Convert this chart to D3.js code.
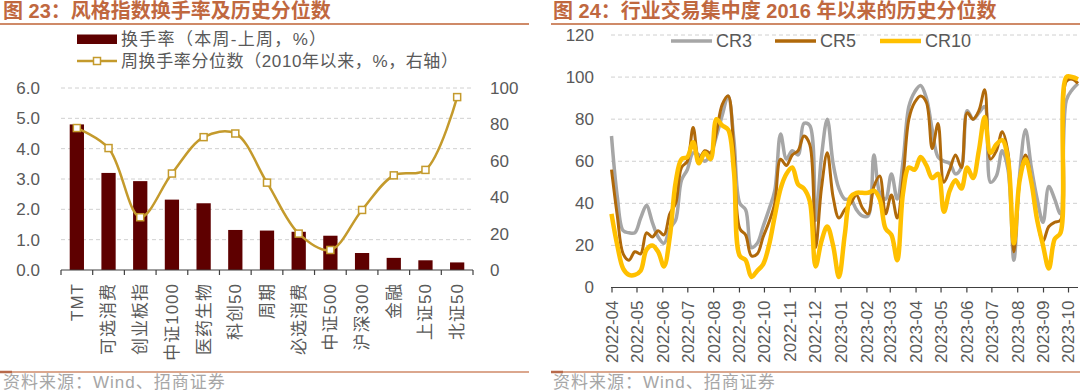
<!DOCTYPE html>
<html><head><meta charset="utf-8">
<script src="https://cdn.jsdelivr.net/npm/d3@7"></script>
<style>body{margin:0;background:#fff} svg{display:block}</style>
</head><body><svg id="c" width="1080" height="391"></svg>
<script>
// ---------- data: left chart ----------
const styleCats = ["TMT","可选消费","创业板指","中证1000","医药生物","科创50","周期","必选消费","中证500","沪深300","金融","上证50","北证50"];
const turnoverChange = [4.80,3.20,2.93,2.32,2.20,1.32,1.30,1.26,1.13,0.56,0.40,0.32,0.25];
const turnoverPct = [78,67,29,53,73,75,48,20,11,33,52,55,95];
const leftTicks = [0,1,2,3,4,5,6];
const rightTicks = [0,20,40,60,80,100];

// ---------- data: right chart (weekly, from 2022-04-01) ----------
const weekStart = "2022-04-01";
const cr3 = [72,43,27,26,26,33,39,31,24,21, 28,32,51,56,64,63,60,63,72,82,
             91,70,40,37,19,21,29,37,46,73, 61,65,63,78,77,32,62,80,59,47,
             42,42,37,34,34,63,45,42,54,42, 60,86,93,96,90,75,62,60,59,54,
             57,84,80,83,86,50,53,65,56,13, 54,75,57,42,31,48,42,35,89,94, 97];
const cr5 = [56,34,16,13,17,16,26,24,27,25, 35,40,57,60,76,61,65,64,74,87,
             91,64,28,25,15,16,24,31,40,61, 58,63,65,72,68,19,47,64,43,33,
             37,40,44,38,35,48,53,35,44,33, 52,80,88,91,88,66,78,50,56,63,
             57,83,80,84,94,61,65,74,64,17, 51,63,51,32,22,29,31,32,98,99, 97];
const cr10 = [35,20,9,6,6,8,18,20,17,10, 24,50,61,62,69,59,64,61,80,77,
              75,55,15,13,5,8,11,20,34,47, 54,57,49,47,41,10,22,29,20,5,
              25,43,45,45,45,46,42,28,25,13, 45,57,56,62,58,52,54,36,46,51,
              47,57,52,65,81,64,68,70,61,21, 51,61,50,32,20,9,23,26,100,100, 99];
const seriesNames = ["CR3","CR5","CR10"];
const monthLabels = ["2022-04","2022-05","2022-06","2022-07","2022-08","2022-09","2022-10","2022-11","2022-12",
                     "2023-01","2023-02","2023-03","2023-04","2023-05","2023-06","2023-07","2023-08","2023-09","2023-10"];
const crTicks = [0,20,40,60,80,100,120];

// ---------- styles ----------
const FONT = "'Liberation Sans', Arial, 'Noto Sans CJK SC', sans-serif";
const TXT = "#595959";
const TITLE_C = "#c0683f";
const RULE_C = "#cf8a68";
const GRID_C = "#d0d0d0";
const BAR_C = "#5e0000";
const GOLD = "#c49a2c";
const COLORS = ["#a6a6a6", "#b0690a", "#ffc000"];
const WIDTHS = [3.5, 3, 4.5];

const svg = d3.select("#c").style("font-family", FONT);

// ===== Titles, rules and sources =====
function frame(x0, x1, tx, title) {
  svg.append("text").attr("x", tx).attr("y", 18).attr("fill", TITLE_C)
    .attr("font-size", 20).attr("font-weight", "bold").text(title);
  svg.append("line").attr("x1", x0).attr("x2", x1).attr("y1", 24).attr("y2", 24)
    .attr("stroke", RULE_C).attr("stroke-width", 2);
  svg.append("line").attr("x1", x0).attr("x2", x1).attr("y1", 372).attr("y2", 372)
    .attr("stroke", RULE_C).attr("stroke-width", 1.5);
  svg.append("line").attr("x1", x0).attr("x2", x0 + 12).attr("y1", 372).attr("y2", 372)
    .attr("stroke", "#b8694a").attr("stroke-width", 2.5);
  svg.append("text").attr("x", tx).attr("y", 388).attr("fill", "#a6a6a6")
    .attr("font-size", 17).attr("letter-spacing", 1).text("资料来源：Wind、招商证券");
}
frame(0, 529, 3, "图 23：风格指数换手率及历史分位数");
frame(551, 1080, 553, "图 24：行业交易集中度 2016 年以来的历史分位数");

// ===== Left chart =====
{
  const x = d3.scaleBand().domain(styleCats).range([61, 473]).paddingInner(0.55).paddingOuter(0.275);
  const y = d3.scaleLinear().domain([0, 6]).range([270, 88]);
  const y2 = d3.scaleLinear().domain([0, 100]).range([270, 88]);
  const g = svg.append("g");

  g.selectAll("line.grid").data(leftTicks.filter(d => d > 0)).join("line")
    .attr("x1", 61).attr("x2", 473).attr("y1", d => y(d)).attr("y2", d => y(d))
    .attr("stroke", GRID_C).attr("stroke-dasharray", "4,3");

  g.selectAll("rect.bar").data(styleCats).join("rect")
    .attr("x", d => x(d)).attr("width", x.bandwidth())
    .attr("y", (d, i) => y(turnoverChange[i])).attr("height", (d, i) => y(0) - y(turnoverChange[i]))
    .attr("fill", BAR_C);

  g.append("line").attr("x1", 61).attr("x2", 473).attr("y1", y(0)).attr("y2", y(0)).attr("stroke", "#404040").attr("stroke-width", 1.2);
  g.selectAll("line.tk").data(d3.range(styleCats.length + 1)).join("line")
    .attr("x1", i => 61 + i * x.step()).attr("x2", i => 61 + i * x.step())
    .attr("y1", y(0)).attr("y2", y(0) + 5).attr("stroke", "#404040").attr("stroke-width", 1.2);

  g.selectAll("text.yl").data(leftTicks).join("text")
    .attr("x", 40).attr("y", d => y(d)).attr("dy", "0.35em").attr("text-anchor", "end")
    .attr("fill", TXT).attr("font-size", 17).text(d => d.toFixed(1));
  g.selectAll("text.yr").data(rightTicks).join("text")
    .attr("x", 490).attr("y", d => y2(d)).attr("dy", "0.35em").attr("text-anchor", "start")
    .attr("fill", TXT).attr("font-size", 17).text(d => d);

  g.selectAll("text.xl").data(styleCats).join("text")
    .attr("transform", d => `translate(${x(d) + x.bandwidth() / 2},283) rotate(-90)`)
    .attr("text-anchor", "end").attr("dy", "0.35em")
    .attr("fill", TXT).attr("font-size", 17).attr("letter-spacing", 1).text(d => d);

  const line = d3.line().x((d, i) => x(styleCats[i]) + x.bandwidth() / 2).y(d => y2(d))
    .curve(d3.curveCatmullRom.alpha(0.5));
  g.append("path").attr("d", line(turnoverPct)).attr("fill", "none")
    .attr("stroke", GOLD).attr("stroke-width", 2.5);
  g.selectAll("rect.mk").data(turnoverPct).join("rect")
    .attr("x", (d, i) => x(styleCats[i]) + x.bandwidth() / 2 - 3.5).attr("y", d => y2(d) - 3.5)
    .attr("width", 7).attr("height", 7).attr("fill", "#fff").attr("stroke", GOLD).attr("stroke-width", 1.5);

  // legend
  g.append("rect").attr("x", 77).attr("y", 34.5).attr("width", 40).attr("height", 9.5).attr("fill", BAR_C);
  g.append("text").attr("x", 121).attr("y", 39.5).attr("dy", "0.35em").attr("fill", TXT).attr("font-size", 17)
    .attr("letter-spacing", 1.3).text("换手率（本周-上周，%）");
  g.append("line").attr("x1", 77).attr("x2", 117).attr("y1", 61).attr("y2", 61).attr("stroke", GOLD).attr("stroke-width", 2.5);
  g.append("rect").attr("x", 93.5).attr("y", 57.5).attr("width", 7).attr("height", 7)
    .attr("fill", "#fff").attr("stroke", GOLD).attr("stroke-width", 1.5);
  g.append("text").attr("x", 121).attr("y", 61).attr("dy", "0.35em").attr("fill", TXT).attr("font-size", 17)
    .attr("letter-spacing", 0.6).text("周换手率分位数（2010年以来，%，右轴）");
}

// ===== Right chart =====
{
  const parse = d3.timeParse("%Y-%m-%d");
  const start = parse(weekStart);
  const dates = cr3.map((d, i) => d3.timeDay.offset(start, 7 * i));
  const x = d3.scaleTime().domain([dates[0], dates[dates.length - 1]]).range([611.5, 1078]);
  const y = d3.scaleLinear().domain([0, 120]).range([287.5, 35]);
  const g = svg.append("g");

  g.selectAll("line.grid").data(crTicks.filter(d => d > 0)).join("line")
    .attr("x1", 611).attr("x2", 1078).attr("y1", d => y(d)).attr("y2", d => y(d))
    .attr("stroke", GRID_C).attr("stroke-dasharray", "4,3");

  g.selectAll("text.yl").data(crTicks).join("text")
    .attr("x", 594).attr("y", d => y(d)).attr("dy", "0.35em").attr("text-anchor", "end")
    .attr("fill", TXT).attr("font-size", 17).text(d => d);

  const monthDates = monthLabels.map(m => d3.timeParse("%Y-%m")(m));
  const axis = d3.axisBottom(x).tickValues(monthDates).tickFormat(d3.timeFormat("%Y-%m")).tickSize(5).tickSizeOuter(0);
  const ax = g.append("g").attr("transform", `translate(0,${y(0)})`).call(axis);
  ax.select(".domain").remove();
  ax.selectAll(".tick line").attr("stroke", "#404040").attr("stroke-width", 1.2);
  ax.selectAll(".tick text").attr("fill", TXT).attr("font-size", 17).attr("font-family", FONT)
    .attr("text-anchor", "end").attr("transform", "rotate(-90)").attr("x", -13).attr("y", 0).attr("dy", "0.35em");
  g.append("line").attr("x1", 611).attr("x2", 1078).attr("y1", y(0)).attr("y2", y(0)).attr("stroke", "#404040").attr("stroke-width", 1.2);

  const series = [cr3, cr5, cr10];
  const line = d3.line().x((d, i) => x(dates[i])).y(d => y(d)).curve(d3.curveCatmullRom.alpha(0.5));
  series.forEach((s, k) => {
    g.append("path").attr("d", line(s)).attr("fill", "none")
      .attr("stroke", COLORS[k]).attr("stroke-width", WIDTHS[k]).attr("stroke-linejoin", "round");
  });

  const lx = [671, 775, 880];
  seriesNames.forEach((n, k) => {
    g.append("line").attr("x1", lx[k]).attr("x2", lx[k] + 41).attr("y1", 41).attr("y2", 41)
      .attr("stroke", COLORS[k]).attr("stroke-width", k === 2 ? 4.5 : 3.5);
    g.append("text").attr("x", lx[k] + 45).attr("y", 41).attr("dy", "0.35em")
      .attr("fill", TXT).attr("font-size", 18).text(n);
  });
}
</script></body></html>
